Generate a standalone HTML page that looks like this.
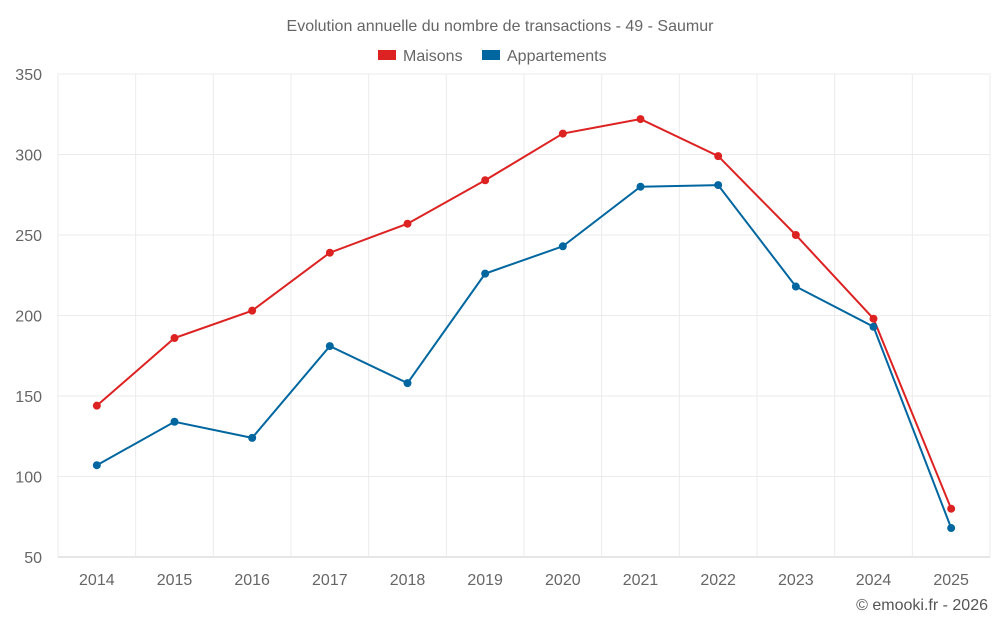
<!DOCTYPE html>
<html><head><meta charset="utf-8"><style>
body{margin:0;background:#fff;font-family:"Liberation Sans",sans-serif;}
svg text{font-family:"Liberation Sans",sans-serif;}
</style></head><body>
<svg id="chart" width="1000" height="625">
<text x="500" y="31" text-anchor="middle" font-size="16" fill="#666">Evolution annuelle du nombre de transactions - 49 - Saumur</text>
<g>
<g><rect x="378" y="50" width="18" height="10" fill="#dd2222"/><text x="403" y="61" font-size="16" fill="#666">Maisons</text></g>
<g><rect x="482" y="50" width="18" height="10" fill="#0066a0"/><text x="507" y="61" font-size="16" fill="#666">Appartements</text></g>
</g>
<g id="grid"></g><g id="axes"></g><g id="series"></g>
<text x="988" y="610" text-anchor="end" font-size="16" fill="#555">© emooki.fr - 2026</text>
</svg>
<script>
const categories=["2014","2015","2016","2017","2018","2019","2020","2021","2022","2023","2024","2025"];
const maisons=[144,186,203,239,257,284,313,322,299,250,198,80];
const appartements=[107,134,124,181,158,226,243,280,281,218,193,68];
const yTicks=[50,100,150,200,250,300,350];
const L=58,R=990,T=74,B=557,yMin=50,yMax=350;
const band=(R-L)/categories.length;
const x=i=>L+band*(i+0.5);
const y=v=>B-(v-yMin)/(yMax-yMin)*(B-T);
const NS="http://www.w3.org/2000/svg";
function mk(t,a,p){const e=document.createElementNS(NS,t);for(const k in a)e.setAttribute(k,a[k]);p.appendChild(e);return e;}
const grid=document.getElementById('grid'),axes=document.getElementById('axes'),ser=document.getElementById('series');
yTicks.forEach(v=>{
 const l=mk('line',{x1:L,x2:R,y1:y(v),y2:y(v),stroke:v===yMin?'#ccc':'#ebebeb'},grid);
 
 
 const t=mk('text',{x:L-16,y:y(v)+6,'text-anchor':'end','font-size':16,fill:'#666'},axes);
 t.textContent=v;
 
 
});
for(let i=0;i<=categories.length;i++){
 const l=mk('line',{x1:L+band*i,x2:L+band*i,y1:T,y2:B,stroke:'#ebebeb'},grid);
 
 
}
categories.forEach((c,i)=>{
 const t=mk('text',{x:x(i),y:585,'text-anchor':'middle','font-size':16,fill:'#666'},axes);
 t.textContent=c;
 
 
});
function draw(data,color,name){
 const p=mk('polyline',{points:data.map((v,i)=>x(i)+','+y(v)).join(' '),fill:'none',stroke:color,'stroke-width':2},ser);
 
 
 data.forEach((v,i)=>{
  const c=mk('circle',{cx:x(i),cy:y(v),r:4,fill:color},ser);
  
  
 });
}
draw(maisons,'#dd2222','maisons');
draw(appartements,'#0066a0','appartements');
</script>
</body></html>
